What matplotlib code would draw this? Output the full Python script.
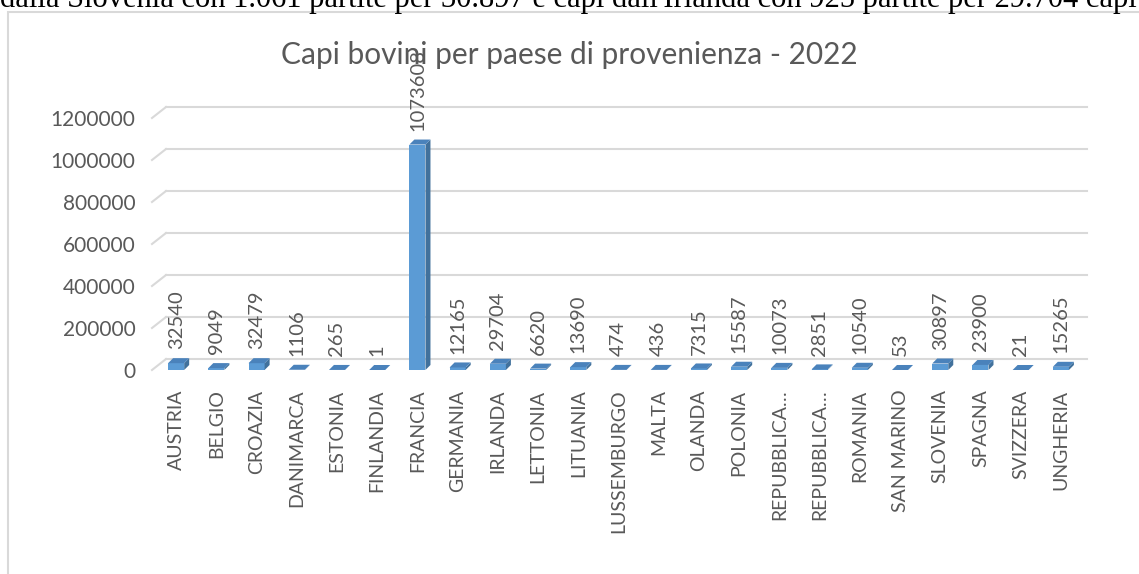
import numpy as np
import matplotlib.pyplot as plt
import matplotlib.transforms as mtransforms
from matplotlib.patches import Polygon, Rectangle

paesi = ["AUSTRIA", "BELGIO", "CROAZIA", "DANIMARCA", "ESTONIA", "FINLANDIA",
         "FRANCIA", "GERMANIA", "IRLANDA", "LETTONIA", "LITUANIA", "LUSSEMBURGO",
         "MALTA", "OLANDA", "POLONIA", "REPUBBLICA…", "REPUBBLICA…", "ROMANIA",
         "SAN MARINO", "SLOVENIA", "SPAGNA", "SVIZZERA", "UNGHERIA"]
capi = [32540, 9049, 32479, 1106, 265, 1, 1073608, 12165, 29704, 6620, 13690,
        474, 436, 7315, 15587, 10073, 2851, 10540, 53, 30897, 23900, 21, 15265]
yticks = [0, 200000, 400000, 600000, 800000, 1000000, 1200000]

titolo = "Capi bovini per paese di provenienza - 2022"
testo_sopra = ("dalla Slovenia con 1.061 partite per 30.897 e capi dall'Irlanda "
               "con 925 partite per 29.704 capi")

W, H = 1139, 574
fig = plt.figure(figsize=(W / 100, H / 100), dpi=100)
grey = "#595959"
font = "Lato"

# frame of the embedded chart
fig.patches.append(Rectangle((8 / W, -0.1), 1.2, 1.1 - 12 / H, transform=fig.transFigure,
                             fill=False, edgecolor="#d9d9d9", lw=1.5))
# text of the document, cut at the top
fig.text(0.0, 1 - 7 / H, testo_sopra, fontsize=22, family="Liberation Serif",
         color="black", va="baseline", ha="left")

ax = fig.add_axes([152 / W, 1 - 370 / H, 933 / W, 252 / H])
n = len(paesi)
x = np.arange(n)
ax.set_xlim(-0.6, n - 1 + 0.6)
ax.set_ylim(0, 1200000)
for s in ax.spines.values():
    s.set_visible(False)

# back wall gridlines, shifted in pixels
back = ax.transData + mtransforms.ScaledTranslation(14 / 100, 11 / 100, fig.dpi_scale_trans)
x0, x1 = ax.get_xlim()
for yv in yticks:
    ax.plot([x0, x1 - 0.3], [yv, yv], transform=back, color="#d9d9d9", lw=1.5,
            zorder=0, clip_on=False)
    pa = ax.transData.transform((x0, yv))
    pb = back.transform((x0, yv))
    ax.plot([pa[0], pb[0]], [pa[1], pb[1]], transform=None, color="#d9d9d9",
            lw=1.5, zorder=0, clip_on=False)

# 3D bars
bw = 0.4
dep = ax.transData + mtransforms.ScaledTranslation(5 / 100, 5 / 100, fig.dpi_scale_trans)
ax.bar(x, capi, width=bw, color="#5B9BD5", zorder=3)
for xi, v in zip(x, capi):
    l, r = xi - bw / 2, xi + bw / 2
    pts = ax.transData.transform([(r, 0), (r, v), (l, v)])
    pts_b = dep.transform([(r, 0), (r, v), (l, v)])
    side = [pts[0], pts_b[0], pts_b[1], pts[1]]
    top = [pts[2], pts[1], pts_b[1], pts_b[2]]
    ax.add_patch(Polygon(side, closed=True, transform=None, facecolor="#41719C",
                         edgecolor="none", zorder=3, clip_on=False))
    ax.add_patch(Polygon(top, closed=True, transform=None, facecolor="#4A82BB",
                         edgecolor="none", zorder=3, clip_on=False))
    ax.annotate(str(v), (xi, v), xytext=(0, 10), textcoords="offset points",
                rotation=90, ha="center", va="bottom", fontsize=14.5, color=grey,
                family=font, zorder=5, annotation_clip=False)

ax.set_yticks(yticks)
ax.set_yticklabels([str(t) for t in yticks], fontsize=15, color=grey, family=font)
ax.set_xticks(x)
ax.set_xticklabels(paesi, rotation=90, fontsize=14, color=grey, family=font)
ax.tick_params(length=0, pad=12)
ax.tick_params(axis="x", pad=14)

fig.text(0.5, 1 - 64 / H, titolo, fontsize=21.5, color=grey, family=font,
         ha="center", va="baseline")

fig.savefig("out.png", dpi=100)
